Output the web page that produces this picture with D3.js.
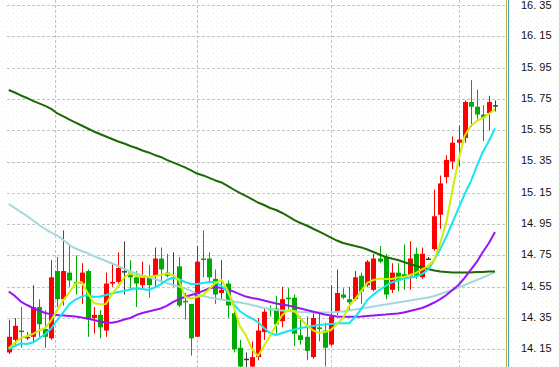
<!DOCTYPE html>
<html>
<head>
<meta charset="utf-8">
<script src="https://cdn.jsdelivr.net/npm/d3@7"></script>
<style>
  body { margin: 0; background: #fff; }
  svg { display: block; }
</style>
</head>
<body>
<div id="viz"></div>
<script>
// daily bars, oldest first
var opens = [14.13,14.21,14.27,14.22,14.23,14.42,14.28,14.22,14.65,14.47,
  14.64,14.58,14.57,14.65,14.35,14.37,14.27,14.57,14.58,14.65,
  14.64,14.61,14.56,14.61,14.62,14.73,14.64,14.61,14.68,14.46,
  14.44,14.23,14.73,14.73,14.60,14.51,14.57,14.38,14.16,14.09,
  14.04,14.10,14.26,14.41,14.41,14.33,14.48,14.48,14.24,14.23,
  14.10,14.29,14.27,14.18,14.39,14.50,14.47,14.47,14.62,14.56,
  14.53,14.73,14.74,14.53,14.64,14.63,14.62,14.76,14.61,14.73,
  14.79,15.01,15.25,15.35,15.47,15.50,15.73,15.70,15.65,15.66,15.71];
var closes = [14.23,14.30,14.26,14.23,14.42,14.31,14.23,14.61,14.47,14.65,
  14.59,14.57,14.64,14.34,14.37,14.29,14.57,14.58,14.67,14.65,
  14.61,14.57,14.62,14.56,14.73,14.66,14.62,14.61,14.43,14.45,
  14.22,14.71,14.72,14.61,14.50,14.53,14.43,14.15,14.04,14.09,
  14.10,14.27,14.39,14.40,14.31,14.47,14.47,14.25,14.21,14.14,
  14.35,14.28,14.16,14.36,14.51,14.48,14.45,14.61,14.52,14.71,
  14.73,14.71,14.50,14.64,14.59,14.60,14.73,14.62,14.76,14.73,
  15.00,15.21,15.36,15.47,15.49,15.73,15.70,15.65,15.63,15.73,15.71];
var highs = [14.34,14.35,14.42,14.26,14.56,14.47,14.40,14.72,14.74,14.91,
  14.82,14.75,14.70,14.66,14.42,14.40,14.64,14.70,14.77,14.84,
  14.72,14.65,14.71,14.69,14.80,14.80,14.76,14.77,14.74,14.51,
  14.44,14.81,14.91,14.77,14.66,14.72,14.59,14.42,14.21,14.13,
  14.20,14.35,14.41,14.43,14.49,14.55,14.54,14.50,14.36,14.36,
  14.39,14.39,14.32,14.56,14.66,14.54,14.55,14.65,14.64,14.72,
  14.76,14.81,14.76,14.70,14.70,14.82,14.84,14.80,14.80,14.74,
  15.17,15.26,15.39,15.51,15.58,15.74,15.87,15.81,15.71,15.77,15.74];
var lows = [14.12,14.18,14.16,14.21,14.20,14.23,14.16,14.21,14.42,14.43,
  14.55,14.50,14.44,14.23,14.25,14.22,14.23,14.55,14.57,14.50,
  14.53,14.42,14.53,14.48,14.55,14.57,14.61,14.55,14.42,14.34,
  14.11,14.23,14.61,14.58,14.44,14.47,14.35,14.13,14.03,14.03,
  14.03,14.08,14.21,14.36,14.25,14.29,14.40,14.17,14.18,14.08,
  14.09,14.20,14.04,14.17,14.37,14.47,14.40,14.46,14.44,14.55,
  14.52,14.70,14.47,14.51,14.52,14.53,14.53,14.60,14.60,14.72,
  14.78,14.92,15.21,15.30,15.32,15.47,15.57,15.62,15.48,15.55,15.67];

// moving averages
var ma5 = [14.156,14.190,14.222,14.235,14.248,14.270,14.286,14.337,14.401,14.465,
  14.516,14.570,14.580,14.510,14.446,14.438,14.439,14.503,14.550,14.609,
  14.636,14.618,14.612,14.614,14.618,14.625,14.634,14.625,14.593,14.484,
  14.476,14.484,14.497,14.535,14.574,14.593,14.529,14.427,14.299,14.241,
  14.152,14.107,14.171,14.235,14.305,14.369,14.401,14.395,14.347,14.305,
  14.273,14.254,14.261,14.273,14.312,14.350,14.427,14.471,14.523,14.574,
  14.593,14.602,14.599,14.599,14.609,14.612,14.625,14.638,14.660,14.682,
  14.721,14.829,14.963,15.168,15.360,15.513,15.577,15.609,15.628,15.654,15.686];
var ma10 = [14.152,14.171,14.187,14.184,14.193,14.219,14.248,14.283,14.337,14.388,
  14.439,14.468,14.487,14.497,14.484,14.487,14.497,14.507,14.516,14.523,
  14.532,14.539,14.535,14.529,14.545,14.564,14.593,14.606,14.599,14.580,
  14.567,14.567,14.574,14.580,14.580,14.555,14.516,14.439,14.395,14.369,
  14.347,14.324,14.286,14.254,14.241,14.254,14.267,14.277,14.286,14.293,
  14.299,14.305,14.308,14.312,14.315,14.316,14.316,14.356,14.408,14.465,
  14.500,14.529,14.555,14.577,14.590,14.602,14.609,14.614,14.631,14.660,
  14.720,14.790,14.870,14.960,15.050,15.142,15.219,15.321,15.411,15.481,15.562];
var ma20 = [14.519,14.491,14.455,14.433,14.414,14.398,14.382,14.374,14.369,14.366,
  14.363,14.360,14.353,14.347,14.337,14.328,14.321,14.320,14.328,14.340,
  14.350,14.369,14.382,14.392,14.401,14.411,14.427,14.452,14.471,14.484,
  14.497,14.507,14.523,14.539,14.548,14.542,14.532,14.519,14.503,14.487,
  14.478,14.471,14.462,14.452,14.443,14.436,14.430,14.420,14.411,14.401,
  14.392,14.382,14.372,14.366,14.360,14.358,14.358,14.358,14.360,14.363,
  14.366,14.369,14.372,14.376,14.379,14.385,14.395,14.404,14.414,14.430,
  14.449,14.471,14.497,14.529,14.561,14.606,14.657,14.708,14.772,14.829,14.900];
var ma60 = [15.078,15.053,15.027,15.002,14.973,14.944,14.919,14.896,14.877,14.848,
  14.816,14.794,14.778,14.765,14.746,14.730,14.714,14.698,14.682,14.663,
  14.647,14.634,14.622,14.612,14.599,14.586,14.574,14.561,14.551,14.539,
  14.523,14.500,14.491,14.481,14.475,14.468,14.462,14.455,14.449,14.443,
  14.433,14.424,14.414,14.408,14.401,14.398,14.395,14.392,14.388,14.386,
  14.385,14.385,14.385,14.386,14.388,14.392,14.398,14.404,14.411,14.417,
  14.424,14.430,14.436,14.443,14.449,14.455,14.462,14.468,14.475,14.481,
  14.491,14.503,14.516,14.529,14.545,14.561,14.577,14.593,14.609,14.625,14.644];
var ma120 = [15.807,15.791,15.772,15.756,15.737,15.721,15.705,15.686,15.657,15.638,
  15.618,15.599,15.580,15.561,15.542,15.526,15.510,15.494,15.478,15.465,
  15.449,15.436,15.420,15.408,15.392,15.379,15.360,15.344,15.328,15.312,
  15.293,15.273,15.261,15.245,15.229,15.216,15.194,15.171,15.149,15.130,
  15.110,15.088,15.072,15.053,15.040,15.021,14.999,14.976,14.957,14.941,
  14.922,14.903,14.884,14.864,14.845,14.829,14.820,14.810,14.801,14.788,
  14.772,14.756,14.740,14.730,14.721,14.708,14.695,14.682,14.673,14.663,
  14.654,14.647,14.644,14.641,14.641,14.641,14.641,14.644,14.644,14.647,14.647];

var priceTicks = [14.15,14.35,14.55,14.75,14.95,15.15,15.35,15.55,15.75,15.95,16.15,16.35];
// month separators, in bar-index units
var monthStarts = [7.6, 31, 53, 74];

var W = 559, H = 367;
var plotLeft = 7, plotRight = 506;

var svg = d3.select('#viz').append('svg')
    .attr('width', W)
    .attr('height', H);

// faint speckled background
var defs = svg.append('defs');
var pat = defs.append('pattern')
    .attr('id', 'speck')
    .attr('width', 5).attr('height', 5)
    .attr('patternUnits', 'userSpaceOnUse');
pat.append('rect').attr('width', 5).attr('height', 5).attr('fill', '#ffffff');
pat.append('rect').attr('x', 1).attr('y', 1).attr('width', 1).attr('height', 1).attr('fill', '#e8f0e6');
pat.append('rect').attr('x', 3).attr('y', 3).attr('width', 1).attr('height', 1).attr('fill', '#eef2ee');
svg.append('rect').attr('width', W).attr('height', H).attr('fill', 'url(#speck)');

var records = opens.map(function(o, i) {
    return {i: i, open: o, close: closes[i], high: highs[i], low: lows[i]};
});

var x = d3.scaleLinear().domain([0, opens.length - 1]).range([8.7, 495]);
var y = d3.scaleLinear().domain([14.15, 16.35]).range([349.3, 5]);

// horizontal grid + price labels
var grid = svg.append('g').attr('class', 'grid');
grid.selectAll('line.h')
    .data(priceTicks).enter()
    .append('line')
    .attr('class', 'h')
    .attr('x1', plotLeft)
    .attr('x2', plotRight - 1)
    .attr('y1', function(d) { return Math.round(y(d)) + 0.5; })
    .attr('y2', function(d) { return Math.round(y(d)) + 0.5; })
    .attr('stroke', '#c4c4c4')
    .attr('stroke-dasharray', '3,2');
grid.selectAll('line.v')
    .data(monthStarts).enter()
    .append('line')
    .attr('class', 'v')
    .attr('x1', function(d) { return Math.round(x(d)) + 0.5; })
    .attr('x2', function(d) { return Math.round(x(d)) + 0.5; })
    .attr('y1', 0)
    .attr('y2', H)
    .attr('stroke', '#c4c4c4')
    .attr('stroke-dasharray', '3,2');

svg.append('g')
    .selectAll('text')
    .data(priceTicks).enter()
    .append('text')
    .attr('x', 521)
    .attr('y', function(d) { return Math.max(y(d) - 1, 5.5); })
    .attr('dy', '0.36em')
    .attr('font-family', 'Liberation Sans, Arial, sans-serif')
    .attr('font-size', 11)
    .attr('fill', '#111')
    .text(function(d) { return d3.format('.2f')(d).replace('.', '. '); });

// right edge lines
svg.append('line')
    .attr('x1', 506.5).attr('x2', 506.5).attr('y1', 0).attr('y2', H)
    .attr('stroke', '#b8a848');
svg.append('line')
    .attr('x1', 508.5).attr('x2', 508.5).attr('y1', 0).attr('y2', H)
    .attr('stroke', '#3aa4b8');

var candleColor = function(d) {
    if (d.close > d.open) return '#ff0000';
    if (d.close < d.open) return '#00aa00';
    return '#3c3c3c';
};

var plot = svg.append('g').attr('id', 'plot');

var candles = plot.selectAll('g.candle')
    .data(records).enter()
    .append('g')
    .attr('class', 'candle');

candles.append('line')
    .attr('x1', function(d) { return Math.round(x(d.i)) + 0.5; })
    .attr('x2', function(d) { return Math.round(x(d.i)) + 0.5; })
    .attr('y1', function(d) { return y(d.high); })
    .attr('y2', function(d) { return y(d.low); })
    .attr('stroke', candleColor)
    .attr('stroke-width', 1);

candles.append('rect')
    .attr('x', function(d) { return Math.round(x(d.i)) - 2; })
    .attr('width', 5)
    .attr('y', function(d) { return y(Math.max(d.open, d.close)); })
    .attr('height', function(d) {
        return Math.max(1.5, y(Math.min(d.open, d.close)) - y(Math.max(d.open, d.close)));
    })
    .attr('fill', candleColor);

// moving average lines
var maLines = [
    {vals: ma60, color: '#a4d8dc'},
    {vals: ma120, color: '#1c6a06'},
    {vals: ma20, color: '#9a14f4'},
    {vals: ma10, color: '#14e4f4'},
    {vals: ma5, color: '#d0ee00'}
];
var line = d3.line()
    .x(function(d, i) { return x(i); })
    .y(function(d) { return y(d); });

plot.selectAll('path.ma')
    .data(maLines).enter()
    .append('path')
    .attr('class', 'ma')
    .attr('d', function(d) { return line(d.vals); })
    .attr('fill', 'none')
    .attr('stroke', function(d) { return d.color; })
    .attr('stroke-width', 2)
    .attr('stroke-linejoin', 'round');
</script>
</body>
</html>
